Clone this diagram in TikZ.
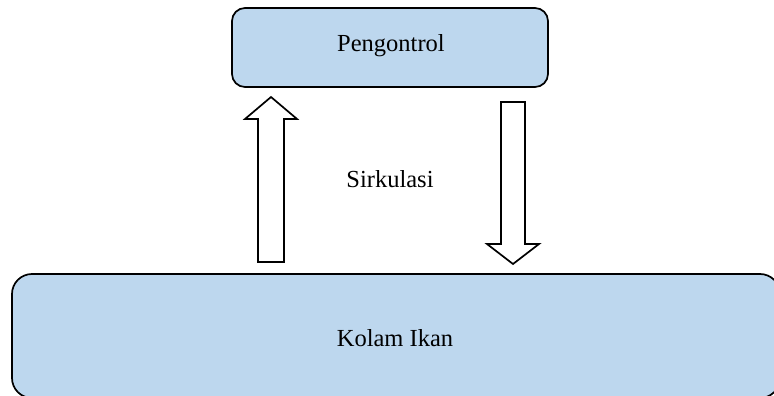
\documentclass[tikz,border=0pt]{standalone}
\usepackage{fontspec}
\setmainfont{Liberation Serif}
\definecolor{boxblue}{HTML}{BDD7EE}
\begin{document}
\begin{tikzpicture}[x=1pt,y=-1pt,
  block/.style={draw=black, line width=1.7pt, fill=boxblue},
  flowarrow/.style={draw=black, line width=1.7pt, fill=white, line join=miter},
  label/.style={font=\fontsize{24.5}{28}\selectfont, inner sep=0pt}]
  \useasboundingbox (0,0) rectangle (774,396);
  % controller box
  \draw[block, rounded corners=13pt] (232,8) rectangle (548,87);
  \node[label] (ctrl) at (391,46) {Pengontrol};
  % pond box, running past the lower and right edges
  \begin{scope}
    \clip (0,0) rectangle (774,396);
    \draw[block, rounded corners=20pt] (12,274) rectangle (780,398);
  \end{scope}
  \node[label] (pond) at (395,338) {Kolam Ikan};
  % circulation arrows
  \draw[flowarrow] (258,262) -- (258,119) -- (245,119) -- (271,97) -- (297,119)
    -- (284,119) -- (284,262) -- cycle;
  \draw[flowarrow] (501,102) -- (525,102) -- (525,244) -- (539,244) -- (513,264)
    -- (487,244) -- (501,244) -- cycle;
  \node[label] (circ) at (390,179) {Sirkulasi};
\end{tikzpicture}
\end{document}
